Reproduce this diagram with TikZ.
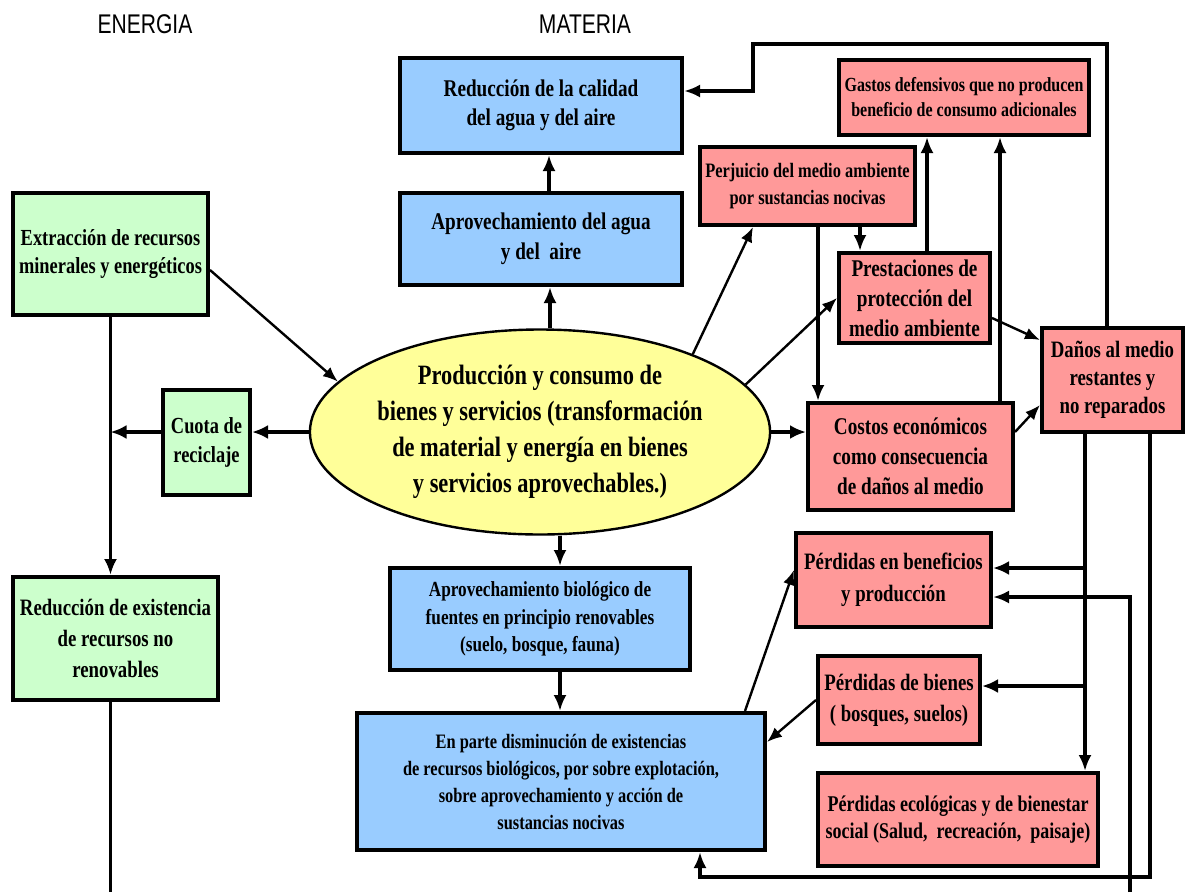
\documentclass[tikz,border=0pt]{standalone}
\usepackage{fontspec}
\setmainfont{Liberation Serif}[FakeStretch=0.8]
\newfontfamily\titlefont{Liberation Sans}[FakeStretch=0.78]
\usetikzlibrary{arrows.meta,shapes.geometric}
\definecolor{boxblue}{HTML}{99CCFF}
\definecolor{boxgreen}{HTML}{CCFFCC}
\definecolor{boxred}{HTML}{FF9999}
\definecolor{boxyellow}{HTML}{FFFF99}
\newcommand{\txtsize}[2]{\bfseries\fontsize{#1}{#2}\selectfont}
\tikzset{
  box/.style={draw, line width=4pt, rectangle, inner sep=0pt, align=center},
  bluebox/.style={box, fill=boxblue},
  greenbox/.style={box, fill=boxgreen},
  redbox/.style={box, fill=boxred},
  link/.style={line width=2.4pt, -{Latex[length=15pt,width=12pt]}},
  mid/.style={line width=3.2pt, -{Latex[length=16pt,width=13pt]}},
  heavy/.style={line width=4.4pt, -{Latex[length=16pt,width=14pt]}},
}
\begin{document}
\begin{tikzpicture}[x=1pt,y=-1pt]
\useasboundingbox (0,0) rectangle (1191,892);
\node (energia) at (145,24) {\titlefont\fontsize{27}{27}\selectfont ENERGIA};
\node (materia) at (585,24) {\titlefont\fontsize{27}{27}\selectfont MATERIA};

\node[bluebox, minimum width=282pt, minimum height=95pt, font=\txtsize{24}{29}] (redcal) at (541,105.5) {Reducción de la calidad\\del agua y del aire};
\node[bluebox, minimum width=282pt, minimum height=92pt, font=\txtsize{24}{30}] (aprag) at (541,239) {Aprovechamiento del agua\\y del~ aire};
\node[bluebox, minimum width=300pt, minimum height=102pt, font=\txtsize{21.5}{27.5}] (aprbio) at (540,619) {Aprovechamiento biológico de\\fuentes en principio renovables\\(suelo, bosque, fauna)};
\node[bluebox, minimum width=408pt, minimum height=137pt, font=\txtsize{20.5}{27}] (dismin) at (561,781.5) {En parte disminución de existencias\\de recursos biológicos, por sobre explotación,\\sobre aprovechamiento y acción de\\sustancias nocivas};

\node[greenbox, minimum width=195pt, minimum height=122pt, font=\txtsize{23}{28}] (extrac) at (110.5,254) {Extracción de recursos\\minerales y energéticos};
\node[greenbox, minimum width=87pt, minimum height=105pt, font=\txtsize{23}{29}] (cuota) at (206.5,442.5) {Cuota de\\reciclaje};
\node[greenbox, minimum width=205pt, minimum height=123pt, font=\txtsize{23.5}{31}] (redexi) at (115.5,638.5) {Reducción de existencia\\de recursos no\\renovables};

\node[ellipse, draw, line width=2.4pt, fill=boxyellow, inner sep=0pt, minimum width=430pt, minimum height=205pt, align=center, font=\txtsize{28}{36}] (prod) at (540,432) {Producción y consumo de\\bienes y servicios (transformación\\de material y energía en bienes\\y servicios aprovechables.)};

\node[redbox, minimum width=250pt, minimum height=75pt, font=\txtsize{20}{25}] (gastos) at (964,97.5) {Gastos defensivos que no producen\\beneficio de consumo adicionales};
\node[redbox, minimum width=215pt, minimum height=78pt, font=\txtsize{20.5}{27}] (perj) at (807.5,186) {Perjuicio del medio ambiente\\por sustancias nocivas};
\node[redbox, minimum width=151pt, minimum height=90pt, font=\txtsize{24}{30}] (prest) at (914.5,298) {Prestaciones de\\protección del\\medio ambiente};
\node[redbox, minimum width=141pt, minimum height=104pt, font=\txtsize{23.5}{28}] (danos) at (1112.5,380) {Daños al medio\\restantes y\\no reparados};
\node[redbox, minimum width=205pt, minimum height=107pt, font=\txtsize{24}{30}] (costos) at (910.5,456.5) {Costos económicos\\como consecuencia\\de daños al medio};
\node[redbox, minimum width=195pt, minimum height=94pt, font=\txtsize{23.5}{32}] (perben) at (893.5,580) {Pérdidas en beneficios\\y producción};
\node[redbox, minimum width=162pt, minimum height=88pt, font=\txtsize{23.5}{31}] (perbien) at (899,700) {Pérdidas de bienes\\( bosques, suelos)};
\node[redbox, minimum width=280pt, minimum height=93pt, font=\txtsize{22.5}{27}] (pereco) at (958,819.5) {Pérdidas ecológicas y de bienestar\\social (Salud,~ recreación,~ paisaje)};

\coordinate (foota) at (0,892);
\coordinate (footc) at (1130,892);
\coordinate (floor) at (0,877);
\coordinate (loopa) at (753,44);
\coordinate (busa) at ([xshift=-27.5pt]danos.south);
\coordinate (busb) at ([xshift=37.5pt]danos.south);
\coordinate (benin) at ([yshift=12pt]perben.east);
\coordinate (benin2) at ([yshift=-17pt]perben.east);
\coordinate (bienin) at ([yshift=14pt]perbien.east);
\coordinate (disin) at ([xshift=139pt]dismin.south);
\coordinate (recyc) at (extrac.south |- cuota.west);

\draw[mid] ([xshift=8pt]aprag.north) -- ([xshift=8pt]redcal.south);
\draw[mid] ([xshift=10pt]prod.north) -- ([xshift=10pt]prod.north |- aprag.south);
\draw[link] ([yshift=-16pt]extrac.east) -- (prod.166);
\draw[heavy] (prod.west) -- (prod.west -| cuota.east);
\draw[heavy] (prod.west -| cuota.west) -- (prod.west -| recyc);
\draw[mid] (extrac.south) -- (extrac.south |- redexi.north);
\draw[mid, -] (extrac.south |- redexi.south) -- (extrac.south |- foota);
\draw[mid] ([xshift=20pt]prod.south) -- ([xshift=20pt]prod.south |- aprbio.north);
\draw[mid] ([xshift=20pt]aprbio.south) -- ([xshift=20pt]aprbio.south |- dismin.north);

\draw[heavy] (prod.east) -- (prod.east -| costos.west);
\draw[link] (prod.27) -- ([xshift=55pt]perj.south west);
\draw[link] (prod.13) -- (prest.west);
\draw[mid] ([xshift=10.5pt]perj.south) -- ([xshift=10.5pt]perj.south |- costos.north);
\draw[mid] ([xshift=52.5pt]perj.south) -- ([xshift=52.5pt]perj.south |- prest.north);
\draw[mid] ([xshift=12.5pt]prest.north) -- ([xshift=12.5pt]prest.north |- gastos.south);
\draw[mid] ([xshift=89.5pt]costos.north) -- ([xshift=89.5pt]costos.north |- gastos.south);
\draw[link] ([yshift=-20pt]prest.east) -- ([yshift=40pt]danos.west);
\draw[link] ([yshift=24.5pt]costos.east) -- ([yshift=-25pt]danos.west);
\draw[mid] ([xshift=-5.5pt]danos.north) |- (loopa) |- ([yshift=14.5pt]redcal.east);

\draw[mid] (busa) -- (busa |- pereco.north);
\draw[heavy] (busa |- benin) -- (benin);
\draw[heavy] (busa |- bienin) -- (bienin);
\draw[mid] (busb) |- (floor -| disin) -- (disin);
\draw[mid] (footc) |- (benin2);
\draw[link] ([xshift=184pt]dismin.north) -- ([yshift=10pt]perben.west);
\draw[link] (perbien.west) -- ([yshift=39.5pt]dismin.east);
\end{tikzpicture}
\end{document}
